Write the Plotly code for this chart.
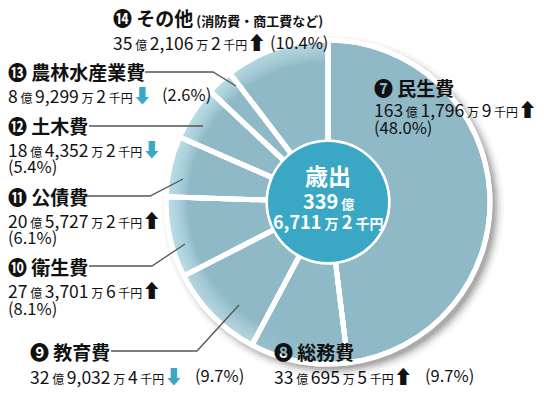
import plotly.graph_objects as go

# ---------------- data ----------------
categories = ["民生費", "総務費", "教育費", "衛生費", "公債費", "土木費", "農林水産業費", "その他"]
marks = ["❼", "❽", "❾", "❿", "⓫", "⓬", "⓭", "⓮"]
oku = [163, 33, 32, 27, 20, 18, 8, 35]
man = [1796, 695, 9032, 3701, 5727, 4352, 9299, 2106]
sen = [9, 5, 4, 6, 2, 2, 2, 2]
trend = ["up", "up", "down", "up", "up", "down", "down", "up"]
percent = [48.0, 9.7, 9.7, 8.1, 6.1, 5.4, 2.6, 10.4]
total_oku, total_man, total_sen = 339, 6711, 2
center_title = "歳出"
other_note = "(消防費・商工費など)"

values = [o * 100000 + m * 10 + s for o, m, s in zip(oku, man, sen)]  # 千円

# ---------------- layout helpers ----------------
W, H = 544, 393
def px(x): return x / W
def py(y): return 1 - y / H

CX, CY = 328, 202
R_PIE = 162
HOLE_R = 60
PIE_COLOR = "#8fb9c6"
HOLE_COLOR = "#3aa8c4"
RIM_RGB = (214, 239, 247)
FONT = "Noto Sans CJK JP"
DOMAIN = dict(x=[px(CX - R_PIE), px(CX + R_PIE)], y=[py(CY + R_PIE), py(CY - R_PIE)])

common = dict(values=values, labels=categories, sort=False, direction="clockwise",
              rotation=0, textinfo="none", domain=DOMAIN, showlegend=False)

traces = [go.Pie(hole=HOLE_R / R_PIE, hoverinfo="label+percent",
                 marker=dict(colors=[PIE_COLOR] * len(values),
                             line=dict(color="white", width=5)), **common)]

# rim highlight (light from upper-left) as stacked translucent rings
rim_weight = [0.0, 0.15, 0.8, 1.0, 1.0, 1.0, 1.0, 0.85]
BAND_W, N_BANDS = 3, 7
for k in range(N_BANDS):
    r_in = R_PIE - BAND_W * (N_BANDS - k)
    cols = [f"rgba({RIM_RGB[0]},{RIM_RGB[1]},{RIM_RGB[2]},{0.14 * w:.3f})" for w in rim_weight]
    traces.append(go.Pie(hole=r_in / R_PIE, hoverinfo="skip",
                         marker=dict(colors=cols, line=dict(width=0)), **common))

# white separators on top again
traces.append(go.Pie(hole=HOLE_R / R_PIE, hoverinfo="skip",
                     marker=dict(colors=["rgba(0,0,0,0)"] * len(values),
                                 line=dict(color="white", width=5)), **common))

fig = go.Figure(traces)

def circle(cx, cy, r, **kw):
    return dict(type="circle", xref="paper", yref="paper",
                x0=px(cx - r), x1=px(cx + r), y0=py(cy + r), y1=py(cy - r), **kw)

shapes = []
# soft drop shadow
for dr, op in [(9, 0.05), (6, 0.08), (4, 0.11), (2, 0.14), (0, 0.18)]:
    shapes.append(circle(CX + 5, CY + 5, R_PIE + dr, fillcolor="#4a4a4a",
                         opacity=op, line=dict(width=0), layer="below"))
# centre disc
shapes.append(circle(CX, CY, HOLE_R, fillcolor=HOLE_COLOR, line=dict(width=0), layer="above"))

# leader lines (pixel polylines)
leaders = {
    2: [(111, 351), (197, 351), (239, 305)],
    3: [(89, 266), (152, 266), (185, 244)],
    4: [(86, 196), (150, 196), (183, 179)],
    5: [(89, 126), (203, 126)],
    6: [(145, 72), (213, 72), (236, 86)],
}
for pts in leaders.values():
    path = "M " + " L ".join(f"{px(x)},{py(y)}" for x, y in pts)
    shapes.append(dict(type="path", xref="paper", yref="paper", path=path,
                       line=dict(color="#555555", width=1.3), layer="above"))

# label placement: x, title y, amount y, pct (x, y)
place = {
    0: (372, 87, 109, (372, 127)),
    1: (272, 351, 375, (423, 375)),
    2: (28, 351, 375, (193, 375)),
    3: (6, 266, 289, (6, 308)),
    4: (6, 196, 219, (6, 237)),
    5: (6, 126, 148, (6, 166)),
    6: (6, 72, 94, (160, 94)),
    7: (111, 18, 42, (268, 42)),
}

def sm(t, size=12):
    return f"<span style='font-size:{size}px'>{t}</span>"

def amount_text(i):
    if trend[i] == "up":
        arrow = "<span style='font-size:19px'>⬆</span>"
    else:
        arrow = "<span style='font-size:19px;color:#3aa8c4'>⬇</span>"
    return (f"{oku[i]}{sm(' 億 ')}{man[i]:,}{sm(' 万 ')}{sen[i]}{sm(' 千円')}{arrow}")

ann = []
for i in range(len(categories)):
    x, ty, ay, (pxx, pyy) = place[i]
    title = f"<b>{marks[i]} {categories[i]}</b>"
    if i == 7:
        title += f"<b>{sm(' ' + other_note, 13)}</b>"
    ann.append(dict(x=px(x), y=py(ty), text=title, font=dict(size=19, color="#111")))
    ann.append(dict(x=px(x), y=py(ay), text=amount_text(i), font=dict(size=17.5, color="#111")))
    ann.append(dict(x=px(pxx), y=py(pyy), text=f"({percent[i]:.1f}%)", font=dict(size=16.5, color="#111")))

# centre text
ann.append(dict(x=px(CX), y=py(175), text=f"<b>{center_title}</b>", xanchor="center",
                font=dict(size=23, color="white")))
ann.append(dict(x=px(CX), y=py(200), text=f"<b>{total_oku}{sm(' 億', 13)}</b>", xanchor="center",
                font=dict(size=20, color="white")))
ann.append(dict(x=px(CX), y=py(221),
                text=f"<b>{total_man:,}{sm(' 万 ', 14)}{total_sen}{sm(' 千円', 14)}</b>",
                xanchor="center", font=dict(size=18, color="white")))

for a in ann:
    a.setdefault("xanchor", "left")
    a.update(xref="paper", yref="paper", yanchor="middle", showarrow=False)
    a["font"]["family"] = FONT

fig.update_layout(
    width=W, height=H,
    margin=dict(l=0, r=0, t=0, b=0),
    paper_bgcolor="white", plot_bgcolor="white",
    shapes=shapes, annotations=ann,
    font=dict(family=FONT),
)

fig.write_html("out.html",
               config={"displayModeBar": False},
               post_script="document.body.style.margin='0';document.body.style.overflow='hidden';")
